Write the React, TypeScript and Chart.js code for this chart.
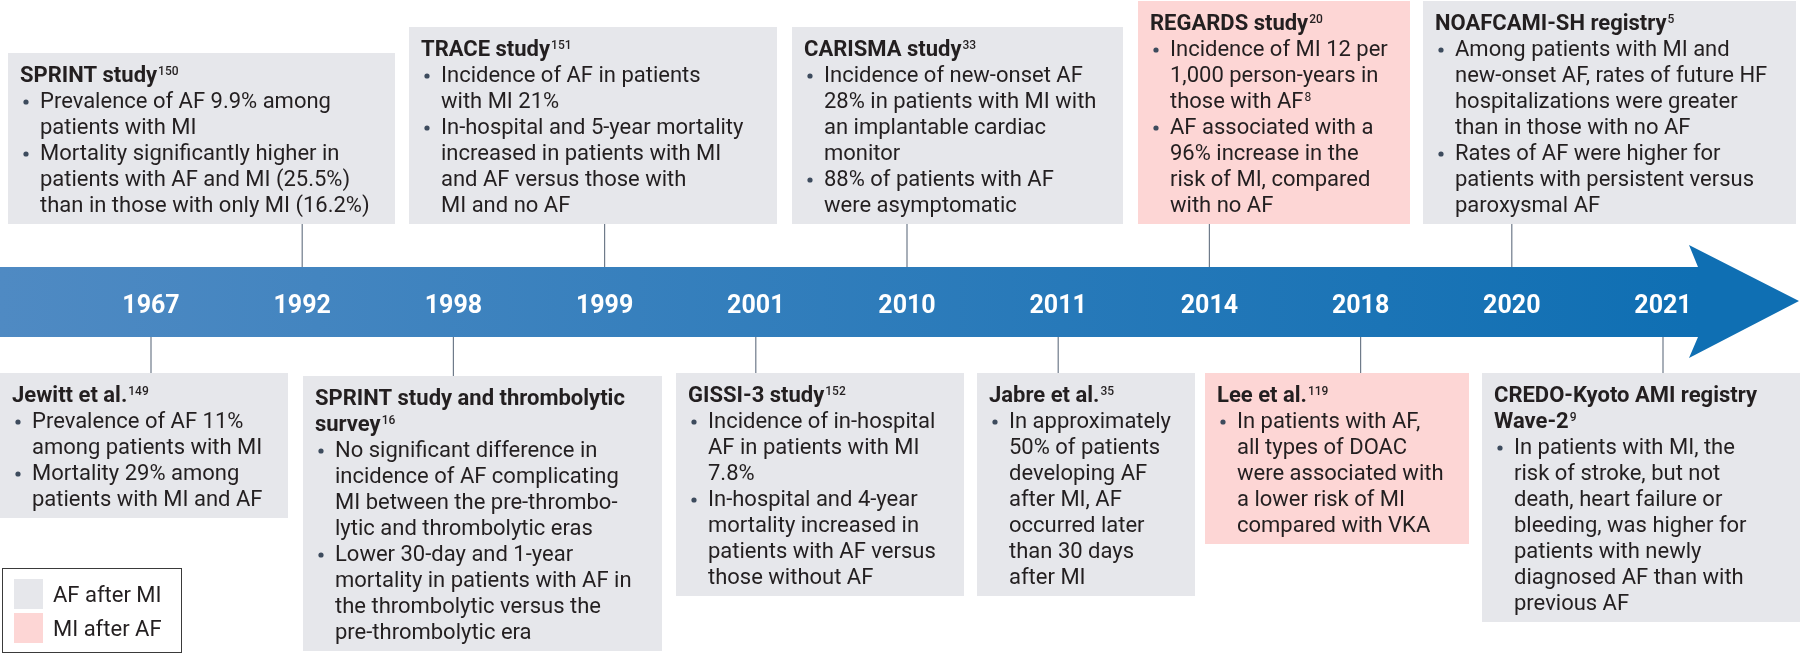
import { useEffect, useRef } from 'react';
import { Chart, registerables } from 'chart.js';

Chart.register(...registerables);

// ---------- DATA ----------
const years = ['1967', '1992', '1998', '1999', '2001', '2010', '2011', '2014', '2018', '2020', '2021'];

const eventYears = ['1992', '1999', '2010', '2014', '2020', '1967', '1998', '2001', '2011', '2018', '2021'];
const eventSides = ['top', 'top', 'top', 'top', 'top', 'bottom', 'bottom', 'bottom', 'bottom', 'bottom', 'bottom'];
const eventTypes = [
  'AF after MI', 'AF after MI', 'AF after MI', 'MI after AF', 'AF after MI',
  'AF after MI', 'AF after MI', 'AF after MI', 'AF after MI', 'MI after AF', 'AF after MI',
];
const eventTitles = [
  ['SPRINT study^150'],
  ['TRACE study^151'],
  ['CARISMA study^33'],
  ['REGARDS study^20'],
  ['NOAFCAMI-SH registry^5'],
  ['Jewitt et al.^149'],
  ['SPRINT study and thrombolytic', 'survey^16'],
  ['GISSI-3 study^152'],
  ['Jabre et al.^35'],
  ['Lee et al.^119'],
  ['CREDO-Kyoto AMI registry', 'Wave-2^9'],
];
const eventBullets = [
  [
    ['Prevalence of AF 9.9% among', 'patients with MI'],
    ['Mortality significantly higher in', 'patients with AF and MI (25.5%)', 'than in those with only MI (16.2%)'],
  ],
  [
    ['Incidence of AF in patients', 'with MI 21%'],
    ['In-hospital and 5-year mortality', 'increased in patients with MI', 'and AF versus those with', 'MI and no AF'],
  ],
  [
    ['Incidence of new-onset AF', '28% in patients with MI with', 'an implantable cardiac', 'monitor'],
    ['88% of patients with AF', 'were asymptomatic'],
  ],
  [
    ['Incidence of MI 12 per', '1,000 person-years in', 'those with AF^8'],
    ['AF associated with a', '96% increase in the', 'risk of MI, compared', 'with no AF'],
  ],
  [
    ['Among patients with MI and', 'new-onset AF, rates of future HF', 'hospitalizations were greater', 'than in those with no AF'],
    ['Rates of AF were higher for', 'patients with persistent versus', 'paroxysmal AF'],
  ],
  [
    ['Prevalence of AF 11%', 'among patients with MI'],
    ['Mortality 29% among', 'patients with MI and AF'],
  ],
  [
    ['No significant difference in', 'incidence of AF complicating', 'MI between the pre-thrombo-', 'lytic and thrombolytic eras'],
    ['Lower 30-day and 1-year', 'mortality in patients with AF in', 'the thrombolytic versus the', 'pre-thrombolytic era'],
  ],
  [
    ['Incidence of in-hospital', 'AF in patients with MI', '7.8%'],
    ['In-hospital and 4-year', 'mortality increased in', 'patients with AF versus', 'those without AF'],
  ],
  [
    ['In approximately', '50% of patients', 'developing AF', 'after MI, AF', 'occurred later', 'than 30 days', 'after MI'],
  ],
  [
    ['In patients with AF,', 'all types of DOAC', 'were associated with', 'a lower risk of MI', 'compared with VKA'],
  ],
  [
    ['In patients with MI, the', 'risk of stroke, but not', 'death, heart failure or', 'bleeding, was higher for', 'patients with newly', 'diagnosed AF than with', 'previous AF'],
  ],
];
const legendLabels = ['AF after MI', 'MI after AF'];

// ---------- LAYOUT / STYLE ----------
const W = 1800;
const H = 654;
const FIRST_X = 151;
const STEP_X = 151.2;
const BAND_TOP = 267;
const BAND_BOTTOM = 337;
const TOP_BOX_BOTTOM = 224;
const BOTTOM_BOX_TOPS = [373, 376, 373, 373, 373, 373];
const boxExtents = [
  [8, 395], [409, 777], [792, 1123], [1138, 1410], [1423, 1796],
  [0, 288], [303, 662], [676, 964], [977, 1195], [1205, 1469], [1482, 1800],
];
const LINE_H = 26;
const FONT = 'Roboto, "Noto Sans", sans-serif';
const typeColors: Record<string, string> = { 'AF after MI': '#e6e7eb', 'MI after AF': '#fdd6d5' };
const TEXT_COLOR = '#231f20';
const BULLET_COLOR = '#3d4b5d';
const CONNECTOR_COLOR = '#6f7b8a';

function countLines(i: number) {
  let n = eventTitles[i].length;
  eventBullets[i].forEach((b) => (n += b.length));
  return n;
}

function boxTop(i: number) {
  if (eventSides[i] === 'top') return TOP_BOX_BOTTOM - (countLines(i) * LINE_H + 15);
  const bi = i - 5;
  return BOTTOM_BOX_TOPS[bi];
}

function drawRich(ctx: CanvasRenderingContext2D, s: string, x: number, y: number, font: string, supFont: string) {
  const [main, sup] = s.split('^');
  ctx.font = font;
  ctx.fillText(main, x, y);
  if (sup) {
    const w = ctx.measureText(main).width;
    ctx.font = supFont;
    ctx.fillText(sup, x + w + 1, y - 7);
  }
}

const timelinePlugin = {
  id: 'timeline',
  beforeDatasetsDraw(chart: any) {
    const ctx: CanvasRenderingContext2D = chart.ctx;
    const xs = chart.scales.x;
    const ys = chart.scales.y;
    const t = ys.getPixelForValue(BAND_TOP);
    const b = ys.getPixelForValue(BAND_BOTTOM);
    ctx.save();
    const g = ctx.createLinearGradient(0, 0, 1700, 0);
    g.addColorStop(0, '#4f8ac3');
    g.addColorStop(1, '#0f6fb3');
    ctx.fillStyle = g;
    ctx.beginPath();
    ctx.moveTo(0, t);
    ctx.lineTo(1698, t);
    ctx.lineTo(1689, ys.getPixelForValue(245));
    ctx.lineTo(1799, ys.getPixelForValue(301));
    ctx.lineTo(1689, ys.getPixelForValue(358));
    ctx.lineTo(1698, b);
    ctx.lineTo(0, b);
    ctx.closePath();
    ctx.fill();
    // year labels
    ctx.fillStyle = '#ffffff';
    ctx.font = `bold 25px ${FONT}`;
    ctx.textAlign = 'center';
    ctx.textBaseline = 'alphabetic';
    years.forEach((yr, i) => {
      ctx.fillText(yr, xs.getPixelForValue(i), ys.getPixelForValue(313));
    });
    ctx.restore();
  },
  afterDatasetsDraw(chart: any) {
    const ctx: CanvasRenderingContext2D = chart.ctx;
    const ys = chart.scales.y;
    ctx.save();
    ctx.textAlign = 'left';
    ctx.textBaseline = 'alphabetic';
    eventTitles.forEach((titles, i) => {
      const [l, r] = boxExtents[i];
      const top = ys.getPixelForValue(boxTop(i));
      const h = countLines(i) * LINE_H + 15;
      ctx.fillStyle = typeColors[eventTypes[i]];
      ctx.fillRect(l, top, r - l, h);
      let y = top + 29;
      ctx.fillStyle = TEXT_COLOR;
      titles.forEach((tl) => {
        ctx.fillStyle = TEXT_COLOR;
        drawRich(ctx, tl, l + 12, y, `bold 22px ${FONT}`, `500 12px ${FONT}`);
        y += LINE_H;
      });
      eventBullets[i].forEach((bullet) => {
        bullet.forEach((line, k) => {
          if (k === 0) {
            ctx.fillStyle = BULLET_COLOR;
            ctx.beginPath();
            ctx.arc(l + 18, y - 6, 2.6, 0, Math.PI * 2);
            ctx.fill();
          }
          ctx.fillStyle = TEXT_COLOR;
          drawRich(ctx, line, l + 32, y, `22px ${FONT}`, `12px ${FONT}`);
          y += LINE_H;
        });
      });
    });
    // legend
    ctx.strokeStyle = '#3a3a3a';
    ctx.lineWidth = 1;
    ctx.strokeRect(2.5, 568.5, 179, 84);
    legendLabels.forEach((lab, k) => {
      const sy = k === 0 ? 579 : 613;
      ctx.fillStyle = typeColors[lab];
      ctx.fillRect(14, sy, 29, 30);
      ctx.fillStyle = TEXT_COLOR;
      ctx.font = `22px ${FONT}`;
      ctx.fillText(lab, 53, sy + 23);
    });
    ctx.restore();
  },
};

export default function App() {
  const ref = useRef<HTMLCanvasElement | null>(null);
  useEffect(() => {
    document.body.style.margin = '0';
    const canvas = ref.current!;
    const datasets = eventYears.map((yr, i) => {
      const xi = years.indexOf(yr);
      const pts =
        eventSides[i] === 'top'
          ? [{ x: xi, y: TOP_BOX_BOTTOM }, { x: xi, y: BAND_TOP }]
          : [{ x: xi, y: BAND_BOTTOM }, { x: xi, y: boxTop(i) }];
      return {
        label: eventTitles[i][0],
        data: pts,
        showLine: true,
        borderColor: CONNECTOR_COLOR,
        borderWidth: 1.2,
        pointRadius: 0,
        fill: false,
      };
    });
    const chart = new Chart(canvas, {
      type: 'scatter',
      data: { datasets },
      options: {
        animation: false,
        responsive: false,
        devicePixelRatio: 1,
        layout: { padding: 0 },
        plugins: { legend: { display: false }, tooltip: { enabled: false } },
        scales: {
          x: {
            type: 'linear',
            display: false,
            min: -FIRST_X / STEP_X,
            max: (W - FIRST_X) / STEP_X,
          },
          y: { type: 'linear', display: false, min: 0, max: H, reverse: true },
        },
      },
      plugins: [timelinePlugin],
    });
    return () => chart.destroy();
  }, []);
  return (
    <div style={{ width: W, height: H, background: '#ffffff' }}>
      <canvas ref={ref} width={W} height={H} style={{ display: 'block' }} />
    </div>
  );
}
